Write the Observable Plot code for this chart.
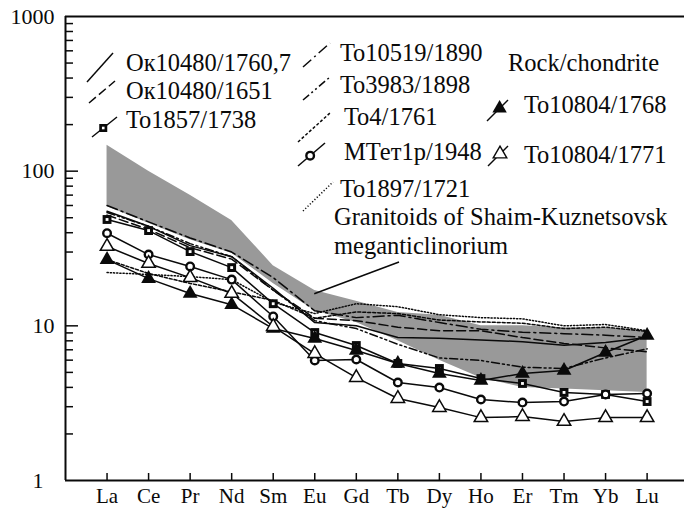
<!DOCTYPE html>
<html><head><meta charset="utf-8">
<script src="https://cdn.jsdelivr.net/npm/d3@7"></script>
<script src="https://cdn.jsdelivr.net/npm/@observablehq/plot@0.6"></script>
<style>
body{margin:0;background:#fff;}
#chart{width:684px;height:512px;overflow:hidden;}
#chart svg, #chart svg text{font-family:"Liberation Serif","Times New Roman","DejaVu Serif",serif !important;}
</style></head><body><div id="chart"></div>
<script>
// ---- data ----
const elements = ["La","Ce","Pr","Nd","Sm","Eu","Gd","Tb","Dy","Ho","Er","Tm","Yb","Lu"];
const yTickValues = [10, 100, 1000];
const yBottomTick = [1];
const yMinorTicks = [2,3,4,5,6,7,8,9,20,30,40,50,60,70,80,90,200,300,400,500,600,700,800,900];

const bandUpper = [147, 100, 70, 48, 24.5, 16.9, 14.4, 12.2, 11.7, 10.0, 10.0, 9.7, 9.7, 9.3];
const bandLower = [59, 46, 36, 29.5, 18.8, 12.5, 10.5, 8.0, 6.0, 4.6, 4.0, 3.9, 3.8, 3.7];

const ok1760_7 = [55, 44, 33, 28, 17.5, 10.5, 10.0, 8.4, 8.3, 8.1, 7.9, 7.5, 7.8, 8.4];
const ok1651   = [52, 42, 32, 27, 17, 11.2, 10.8, 9.8, 9.3, 9.3, 8.4, 7.7, 7.2, 6.8];
const to1857   = [48.7, 41.3, 30.2, 23.8, 13.9, 9.05, 7.46, 5.71, 5.30, 4.56, 4.24, 3.71, 3.60, 3.24];
const to10519  = [60, 47, 37, 30, 20.5, 12.5, 11.3, 11.7, 10.5, 9.5, 9.1, 8.9, 8.7, 8.4];
const to3983   = [54, 44, 34, 28, 17, 10.8, 9.6, 7.6, 6.2, 5.97, 5.4, 5.3, 6.2, 7.1];
const to4      = [26.8, 21.8, 18.8, 16.6, 14.6, 11.2, 12.3, 12.0, 10.9, 10.6, 10.4, 9.6, 9.8, 9.2];
const mtet1948 = [39.7, 28.9, 24.2, 19.9, 11.5, 5.97, 6.06, 4.30, 3.99, 3.34, 3.19, 3.24, 3.60, 3.65];
const to1897   = [22.1, 21.5, 20.8, 19.9, 14.2, 12.0, 13.9, 13.3, 11.8, 11.3, 11.1, 10.0, 10.2, 9.3];
const to1768   = [26.8, 20.2, 16.2, 13.7, 9.6, 8.28, 6.93, 5.71, 4.92, 4.43, 4.92, 5.14, 6.72, 8.66];
const to1771   = [32.6, 25.3, 20.5, 16.2, 9.9, 6.62, 4.63, 3.39, 2.96, 2.55, 2.59, 2.41, 2.55, 2.55];

const legendLabels = ["Ок10480/1760,7","Ок10480/1651","То1857/1738","То10519/1890","То3983/1898",
  "То4/1761","МТет1р/1948","То1897/1721","То10804/1768","То10804/1771"];
const titleText = "Rock/chondrite";
const bandLabel = ["Granitoids of Shaim-Kuznetsovsk", "meganticlinorium"];

// ---- build ----
const idx = elements.map((d, i) => i);
const toRows = arr => arr.map((v, i) => ({i, v}));
const band = idx.map(i => ({i, lo: bandLower[i], hi: bandUpper[i]}));
const font = "Liberation Serif, Times New Roman, serif";
const K = "#0a0a0a";

const lineStyles = [
  {data: ok1760_7, dash: null},
  {data: ok1651, dash: "9,4"},
  {data: to1857, dash: null},
  {data: to10519, dash: "11,4,2,4"},
  {data: to3983, dash: "8,3,2,3,2,3"},
  {data: to4, dash: "3,2"},
  {data: mtet1948, dash: null},
  {data: to1897, dash: "1.2,2"},
  {data: to1768, dash: null},
  {data: to1771, dash: null}
];

const ax = {fontFamily: font, label: null};
const marks = [
  Plot.areaY(band, {x: "i", y1: "lo", y2: "hi", fill: "#999"}),
  ...lineStyles.map(s => Plot.line(toRows(s.data), {x: "i", y: "v", stroke: K, strokeWidth: 1.5, strokeDasharray: s.dash})),
  // markers
  Plot.dot(toRows(to1857), {x: "i", y: "v", symbol: "square", r: 5, fill: K}),
  Plot.dot(toRows(to1857), {x: "i", y: "v", symbol: "square", r: 1.6, fill: "#fff"}),
  Plot.dot(toRows(mtet1948), {x: "i", y: "v", symbol: "circle", r: 3.8, fill: "#fff", stroke: K, strokeWidth: 2.4}),
  Plot.dot(toRows(to1768), {x: "i", y: "v", symbol: "triangle", r: 5.5, fill: K}),
  Plot.dot(toRows(to1771), {x: "i", y: "v", symbol: "triangle", r: 5, fill: "#fff", stroke: K, strokeWidth: 1.5}),
  // frame
  Plot.ruleX([-1], {stroke: K, strokeWidth: 2}),
  Plot.ruleY([1], {stroke: K, strokeWidth: 2}),
  Plot.ruleY([1000], {stroke: K, strokeWidth: 2}),
  // axes
  Plot.axisX({...ax, ticks: idx, tickSize: -7, tickFormat: () => "", strokeWidth: 1.5}),
  Plot.axisX({...ax, ticks: idx, tickSize: 0, tickPadding: 8, tickFormat: i => elements[i], fontSize: 21}),
  Plot.axisY({...ax, ticks: [10, 100], tickSize: -13, tickFormat: () => "", strokeWidth: 1.5}),
  Plot.axisY({...ax, ticks: yMinorTicks, tickSize: -8, tickFormat: () => "", strokeWidth: 1.5}),
  Plot.axisY({...ax, ticks: yTickValues, tickSize: 0, tickPadding: 11, tickFormat: d => String(d), fontSize: 22}),
  Plot.axisY({...ax, ticks: yBottomTick, tickSize: 0, tickPadding: 22, tickFormat: d => String(d), fontSize: 22})
];

const chart = Plot.plot({
  width: 684, height: 512,
  marginLeft: 65, marginRight: 0, marginTop: 16, marginBottom: 32,
  style: {fontFamily: font, color: K, background: "#fff", overflow: "visible"},
  x: {type: "linear", domain: [-1, 13.9], axis: null},
  y: {type: "log", domain: [1, 1000], axis: null},
  marks
});
document.getElementById("chart").appendChild(chart);

// ---- legend / annotations ----
const svg = d3.select(chart);
const g = svg.append("g").attr("font-family", font).attr("fill", K).attr("font-size", 24.5).attr("text-anchor", "start");
const dashes = lineStyles.map(s => s.dash);
// legend layout: [x1,y1,x2,y2, textX, textY]
const layout = [
  [87, 82, 113, 53, 126, 62],
  [89, 103, 115, 81, 126, 90],
  [92, 137, 117, 117, 126, 119],
  [303, 67, 330, 43, 340, 52],
  [303, 100, 330, 77, 340, 84],
  [298, 142, 330, 113, 344, 116],
  [298, 166, 325, 143, 344, 151],
  [303, 211, 333, 182, 340, 188],
  [487, 121, 508, 100, 524, 104],
  [488, 166, 508, 146, 524, 154]
];
const sym = d3.symbol();
layout.forEach((L, k) => {
  const [x1, y1, x2, y2, tx, ty] = L;
  g.append("line").attr("x1", x1).attr("y1", y1).attr("x2", x2).attr("y2", y2)
    .attr("stroke", K).attr("stroke-width", 1.5)
    .attr("stroke-dasharray", dashes[k] || null);
  const mx = x1 + (x2 - x1) * 0.45, my = y1 + (y2 - y1) * 0.45;
  if (k === 2) {
    g.append("rect").attr("x", mx - 4).attr("y", my - 4).attr("width", 8).attr("height", 8).attr("fill", K);
    g.append("rect").attr("x", mx - 1.3).attr("y", my - 1.3).attr("width", 2.6).attr("height", 2.6).attr("fill", "#fff");
  } else if (k === 6) {
    g.append("circle").attr("cx", mx).attr("cy", my).attr("r", 3.8).attr("fill", "#fff").attr("stroke", K).attr("stroke-width", 2.4);
  } else if (k === 8) {
    g.append("path").attr("d", sym.type(d3.symbolTriangle).size(90)()).attr("transform", `translate(${x1 + (x2-x1)*0.6},${y1 + (y2-y1)*0.6})`).attr("fill", K);
  } else if (k === 9) {
    g.append("path").attr("d", sym.type(d3.symbolTriangle).size(80)()).attr("transform", `translate(${x1 + (x2-x1)*0.6},${y1 + (y2-y1)*0.6})`).attr("fill", "#fff").attr("stroke", K).attr("stroke-width", 1.4);
  }
  g.append("text").attr("x", tx).attr("y", ty).attr("dy", "0.35em").text(legendLabels[k]);
});
g.append("text").attr("x", 508).attr("y", 62).attr("dy", "0.35em").text(titleText);
g.append("text").attr("x", 334).attr("y", 216).attr("dy", "0.35em").text(bandLabel[0]);
g.append("text").attr("x", 334).attr("y", 245).attr("dy", "0.35em").text(bandLabel[1]);
const xs = chart.scale("x"), ys = chart.scale("y");
g.append("line").attr("x1", 399).attr("y1", 262)
  .attr("x2", xs.apply(5)).attr("y2", ys.apply(16))
  .attr("stroke", K).attr("stroke-width", 1.5);
</script>
</body></html>
